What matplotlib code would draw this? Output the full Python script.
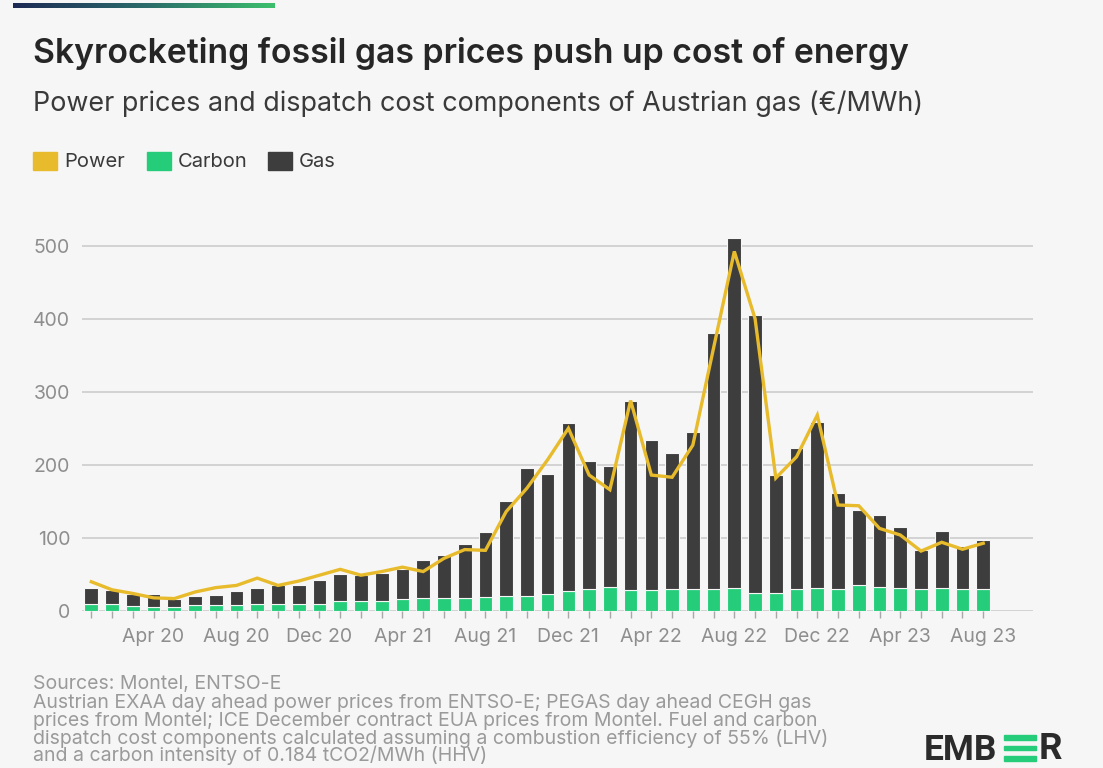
import matplotlib
matplotlib.use("Agg")
import matplotlib.pyplot as plt
import numpy as np
from matplotlib.patches import Rectangle
from matplotlib.colors import LinearSegmentedColormap

# ---------------- data ----------------
months = ["Jan 20", "Feb 20", "Mar 20", "Apr 20", "May 20", "Jun 20", "Jul 20", "Aug 20",
          "Sep 20", "Oct 20", "Nov 20", "Dec 20", "Jan 21", "Feb 21", "Mar 21", "Apr 21",
          "May 21", "Jun 21", "Jul 21", "Aug 21", "Sep 21", "Oct 21", "Nov 21", "Dec 21",
          "Jan 22", "Feb 22", "Mar 22", "Apr 22", "May 22", "Jun 22", "Jul 22", "Aug 22",
          "Sep 22", "Oct 22", "Nov 22", "Dec 22", "Jan 23", "Feb 23", "Mar 23", "Apr 23",
          "May 23", "Jun 23", "Jul 23", "Aug 23"]
carbon = [9, 9, 7, 6, 6, 8, 8, 8, 9.5, 9, 9, 10, 13, 13, 14, 17,
          18, 18, 18, 19.5, 20.5, 20, 23, 28, 30, 33, 29, 29, 30, 30,
          30, 32, 24, 24, 30, 31, 30, 35.5, 33, 31, 29.5, 32, 30, 30]
gas = [23, 20, 16, 17, 11, 12, 14, 20, 22.5, 26, 27, 32, 37, 36, 38, 40,
       52, 59, 74, 88.5, 129.5, 176, 165, 229, 175, 166, 258, 205, 186, 215,
       350, 478, 381, 162, 193, 228, 131, 102.5, 98, 84.5, 54.5, 78, 59.5, 67]
power = [40, 29, 24, 18, 17, 26, 32, 35, 45, 35, 41, 49, 57, 49, 54, 60,
         54, 72, 84, 83, 136, 168, 207, 250, 186, 166, 288, 186, 183, 227,
         360, 492, 400, 182, 211, 268, 145, 144, 113, 104, 82, 94, 84.5, 92.7]
tick_labels = ["Apr 20", "Aug 20", "Dec 20", "Apr 21", "Aug 21", "Dec 21",
               "Apr 22", "Aug 22", "Dec 22", "Apr 23", "Aug 23"]
y_ticks = [0, 100, 200, 300, 400, 500]
series_names = ["Power", "Carbon", "Gas"]

# ---------------- style ----------------
BG = "#f6f6f6"
C_POWER = "#e8bb2c"
C_CARBON = "#25cd7b"
C_GAS = "#3d3d3d"
GRID = "#d0d0d0"
TXT_GRAY = "#8e8e8e"
FONT = ["Inter", "DejaVu Sans"]

W, H = 1103, 768
fig = plt.figure(figsize=(W / 100, H / 100), dpi=100, facecolor=BG)

def fx(px):
    return px / W

def fy(py):
    return 1 - py / H

ax = fig.add_axes([fx(82), fy(611), fx(1033) - fx(82), fy(220) - fy(611)])
ax.set_facecolor(BG)

x = np.arange(len(months))
bw = 0.66
ax.bar(x, carbon, width=bw, color=C_CARBON, edgecolor=BG, linewidth=0.8, zorder=3)
ax.bar(x, gas, bottom=carbon, width=bw, color=C_GAS, edgecolor=BG, linewidth=0.8, zorder=3)
ax.plot(x, power, color=C_POWER, linewidth=2.4, zorder=4, solid_joinstyle="miter")

ax.set_xlim(-0.45, 45.4)
ax.set_ylim(0, 535)
ax.set_yticks(y_ticks)
ax.set_yticklabels([str(v) for v in y_ticks])
ax.grid(axis="y", color=GRID, linewidth=1.3, zorder=0)
ax.set_axisbelow(True)
for s in ax.spines.values():
    s.set_visible(False)

ax.set_xticks(x)
ax.set_xticklabels([m if m in tick_labels else "" for m in months])
ax.tick_params(axis="x", length=5, width=1, color="#a8a8a8", pad=7,
               labelsize=14, labelcolor=TXT_GRAY)
ax.tick_params(axis="y", length=0, pad=8.5, labelsize=14, labelcolor=TXT_GRAY)
for lab in ax.get_xticklabels() + ax.get_yticklabels():
    lab.set_family(FONT)

# ---------------- header ----------------
fig.text(fx(33), fy(63), "Skyrocketing fossil gas prices push up cost of energy",
         fontsize=24.3, fontweight="semibold", color="#262626", family=FONT,
         va="baseline", ha="left")
fig.text(fx(33), fy(111), "Power prices and dispatch cost components of Austrian gas (€/MWh)",
         fontsize=19.4, color="#3a3a3a", family=FONT, va="baseline", ha="left")

# legend
leg_colors = [C_POWER, C_CARBON, C_GAS]
leg_sq_x = [33, 147, 268]
for name, col, sx in zip(series_names, leg_colors, leg_sq_x):
    fig.patches.append(Rectangle((fx(sx), fy(170)), fx(24), fy(152) - fy(170),
                                 transform=fig.transFigure, color=col))
    fig.text(fx(sx + 31), fy(167), name, fontsize=14.5, color="#3a3a3a",
             family=FONT, va="baseline", ha="left")

# top gradient bar
gax = fig.add_axes([fx(13), fy(8), fx(275) - fx(13), fy(3) - fy(8)])
grad = np.linspace(0, 1, 256).reshape(1, -1)
cmap = LinearSegmentedColormap.from_list("g", ["#1d2a55", "#2a6a6a", "#3cbf6c"])
gax.imshow(grad, aspect="auto", cmap=cmap)
gax.axis("off")

# ---------------- footer ----------------
fig.text(fx(33), fy(689), "Sources: Montel, ENTSO-E", fontsize=14, color="#9a9a9a",
         family=FONT, va="baseline", ha="left")
notes = ["Austrian EXAA day ahead power prices from ENTSO-E; PEGAS day ahead CEGH gas",
         "prices from Montel; ICE December contract EUA prices from Montel. Fuel and carbon",
         "dispatch cost components calculated assuming a combustion efficiency of 55% (LHV)",
         "and a carbon intensity of 0.184 tCO2/MWh (HHV)"]
for i, line in enumerate(notes):
    fig.text(fx(33), fy(708 + i * 17.8), line, fontsize=14, color="#9a9a9a",
             family=FONT, va="baseline", ha="left")

# EMBER logo
LOGO_FONT = ["Liberation Sans Narrow", "Roboto", "DejaVu Sans"]
fig.text(fx(924), fy(767), "EMB", fontsize=25.5, fontweight="bold", color="#2b2b2b",
         family=LOGO_FONT, va="bottom", ha="left")
for by in [735, 745.5, 756]:
    fig.patches.append(Rectangle((fx(1004), fy(by + 4.5)), fx(32), fy(by) - fy(by + 4.5),
                                 transform=fig.transFigure, color=C_CARBON))
fig.text(fx(1039), fy(767), "R", fontsize=26.5, fontweight="bold", color="#2b2b2b",
         family=LOGO_FONT, va="bottom", ha="left")

fig.savefig("out.png", dpi=100, facecolor=BG)
